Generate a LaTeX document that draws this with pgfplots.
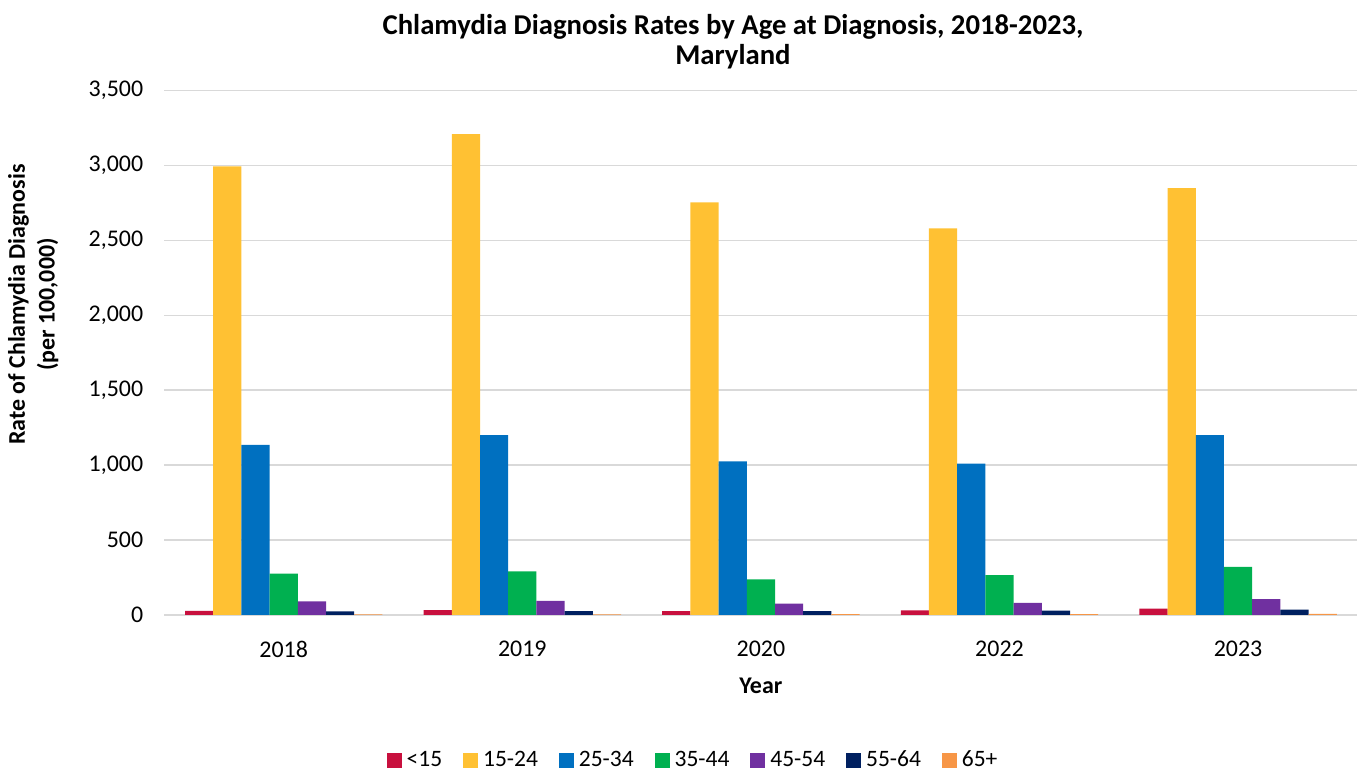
\documentclass[border=0pt]{standalone}
\usepackage{fontspec}
\setmainfont{Carlito}
\usepackage{pgfplots}
\pgfplotsset{compat=1.18}
\definecolor{cA}{HTML}{C8103E}
\definecolor{cB}{HTML}{FFC133}
\definecolor{cC}{HTML}{0070C0}
\definecolor{cD}{HTML}{00B050}
\definecolor{cE}{HTML}{7030A0}
\definecolor{cF}{HTML}{002060}
\definecolor{cG}{HTML}{F79646}
\definecolor{gridc}{HTML}{D9D9D9}
\begin{document}
\begin{tikzpicture}[x=1pt,y=1pt]
\path (0,0) rectangle (682,384.5);
\node[font=\fontsize{14.4}{15}\selectfont\bfseries, align=center] at (367.75,363.5) {Chlamydia Diagnosis Rates by Age at Diagnosis, 2018-2023,\\Maryland};
\begin{axis}[
  at={(82.5pt,76pt)}, anchor=south west,
  scale only axis, width=598.5pt, height=263pt,
  ybar=0pt, bar width=14.15pt,
  xmin=-0.5, xmax=4.5, ymin=0, ymax=3500,
  xtick={0,1,2,3,4},
  xticklabels={2018,2019,2020,2022,2023},
  extra x ticks={-0.5,0.5,1.5,2.5,3.5,4.5},
  extra x tick labels={},
  extra x tick style={major tick length=5pt, tick align=outside, tick style={gridc, line width=0.8pt}},
  major x tick style={draw=none},
  ytick={0,500,...,3500},
  major y tick style={draw=none},
  ymajorgrids, grid style={gridc, line width=0.8pt},
  axis x line=bottom, axis y line=left,
  x axis line style={-, gridc, line width=0.8pt},
  y axis line style={draw=none},
  tick label style={font=\fontsize{12}{14}\selectfont},
  /pgf/number format/assume math mode=true,
  /pgf/number format/1000 sep={,},
  yticklabel style={xshift=-5pt},
  xticklabel style={yshift=-7.5pt},
  xlabel={Year},
  xlabel style={font=\fontsize{12}{14}\selectfont\bfseries, at={(axis description cs:0.5,-0.135)}, anchor=center},
  ylabel={Rate of Chlamydia Diagnosis\\(per 100,000)},
  ylabel style={font=\fontsize{12}{15}\selectfont\bfseries, align=center, at={(axis description cs:-0.110,0.592)}, anchor=center},
  legend columns=-1,
  legend style={draw=none, at={(0.4444,-0.277)}, anchor=center, font=\fontsize{11.8}{14}\selectfont,
    nodes={inner xsep=2.5pt},
    /tikz/every even column/.append style={column sep=8pt}},
  legend image code/.code={\fill[#1] (0pt,-3.75pt) rectangle (7.5pt,3.75pt);},
  legend cell align=left,
]
\addplot[fill=cA, draw=none] coordinates {(0,27) (1,32) (2,25) (3,30) (4,42)};
\addplot[fill=cB, draw=none] coordinates {(0,2995) (1,3210) (2,2755) (3,2580) (4,2850)};
\addplot[fill=cC, draw=none] coordinates {(0,1135) (1,1200) (2,1025) (3,1010) (4,1200)};
\addplot[fill=cD, draw=none] coordinates {(0,275) (1,290) (2,238) (3,265) (4,320)};
\addplot[fill=cE, draw=none] coordinates {(0,90) (1,93) (2,75) (3,80) (4,105)};
\addplot[fill=cF, draw=none] coordinates {(0,24) (1,25) (2,25) (3,28) (4,35)};
\addplot[fill=cG, draw=none] coordinates {(0,4) (1,4) (2,5) (3,5) (4,7)};
\legend{<15,15-24,25-34,35-44,45-54,55-64,65+}
\end{axis}
\end{tikzpicture}
\end{document}
